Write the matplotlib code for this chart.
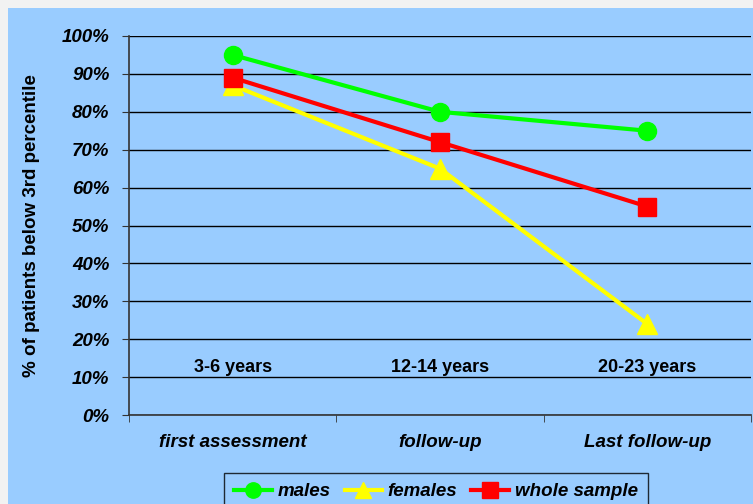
import matplotlib.pyplot as plt
from matplotlib.patches import Rectangle
from matplotlib.ticker import FixedLocator, PercentFormatter

plt.rcParams['font.family'] = ['Liberation Sans', 'DejaVu Sans']

stages = ['first assessment', 'follow-up', 'Last follow-up']
ages = ['3-6 years', '12-14 years', '20-23 years']
males = [95, 80, 75]
females = [87, 65, 24]
whole = [89, 72, 55]

bg = '#99CCFF'
fs = 13.5
fig = plt.figure(figsize=(7.53, 5.04), dpi=100)
fig.patch.set_facecolor('#F2F2F2')
fig.patches.append(Rectangle((8/753, 0), 1, 1 - 8/504, transform=fig.transFigure,
                             facecolor=bg, edgecolor='none', zorder=-10))

ax = fig.add_axes([129/753, 1 - 415/504, 622/753, 379/504])
ax.set_facecolor(bg)

x = range(len(stages))
ax.plot(x, males, color='#00FF00', lw=3, marker='o', ms=13, label='males', zorder=5)
ax.plot(x, females, color='#FFFF00', lw=3, marker='^', ms=14, label='females', zorder=3)
ax.plot(x, whole, color='#FF0000', lw=3, marker='s', ms=13, label='whole sample', zorder=4)

ax.set_xlim(-0.5, 2.5)
ax.set_ylim(0, 100)
ax.set_yticks(range(0, 101, 10))
ax.yaxis.set_major_formatter(PercentFormatter(decimals=0))
ax.grid(axis='y', color='black', lw=1)
ax.set_axisbelow(True)

ax.set_xticks(list(x))
ax.set_xticklabels(stages, fontsize=fs, fontweight='bold', fontstyle='italic')
ax.tick_params(axis='x', which='major', length=0, pad=14)
ax.xaxis.set_minor_locator(FixedLocator([-0.5, 0.5, 1.5, 2.5]))
ax.tick_params(axis='x', which='minor', length=5, color='#333333')
ax.tick_params(axis='y', length=5, color='#333333', pad=9)
for lab in ax.get_yticklabels():
    lab.set_fontsize(fs)
    lab.set_fontweight('bold')
    lab.set_fontstyle('italic')

for s in ['top', 'right']:
    ax.spines[s].set_visible(False)
for s in ['left', 'bottom']:
    ax.spines[s].set_color('#333333')
    ax.spines[s].set_linewidth(1.2)

for i, a in enumerate(ages):
    ax.text(i, 12.6, a, ha='center', va='center', fontsize=13, fontweight='bold')

ax.set_ylabel('% of patients below 3rd percentile', fontsize=fs, fontweight='bold', labelpad=16)

leg = fig.legend(loc='upper center', bbox_to_anchor=(436/753, 1 - 473/504), ncol=3,
                 prop={'size': fs, 'weight': 'bold', 'style': 'italic'},
                 frameon=True, fancybox=False, edgecolor='black', facecolor=bg,
                 handlelength=2.0, columnspacing=0.75, handletextpad=0.3, borderpad=0.55,
                 borderaxespad=0, markerscale=0.85)
leg.get_frame().set_linewidth(1)

fig.savefig('out.png', dpi=100, facecolor=fig.get_facecolor())
